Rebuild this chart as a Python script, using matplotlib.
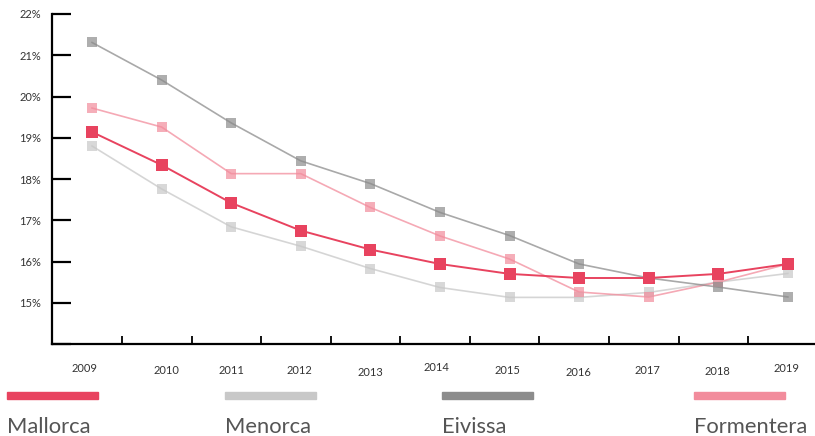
import matplotlib.pyplot as plt
import matplotlib.transforms as mtransforms
import numpy as np

years = ['2009', '2010', '2011', '2012', '2013', '2014', '2015', '2016', '2017', '2018', '2019']
mallorca = [19.14, 18.34, 17.42, 16.75, 16.29, 15.94, 15.70, 15.60, 15.60, 15.70, 15.94]
menorca = [18.80, 17.76, 16.84, 16.37, 15.83, 15.37, 15.13, 15.13, 15.25, 15.50, 15.71]
eivissa = [21.31, 20.40, 19.36, 18.44, 17.89, 17.19, 16.63, 15.94, 15.60, 15.38, 15.14]
formentera = [19.72, 19.26, 18.13, 18.13, 17.31, 16.62, 16.06, 15.26, 15.14, 15.50, 15.94]
y_ticks = [14, 15, 16, 17, 18, 19, 20, 21, 22]

islands = ['Mallorca', 'Menorca', 'Eivissa', 'Formentera']
colors = {'Mallorca': '#E8435F', 'Menorca': '#C8C8C8', 'Eivissa': '#8C8C8C', 'Formentera': '#F28C9C'}

# small hand offsets (px) of the year labels in the original
label_dx = [-7, 5, 0, -1, 0, -3, -2, -1, -1, -1, -1]
label_dy = [-24, -26, -26, -26, -28, -23, -26, -28, -26, -27, -24]

fig = plt.figure(figsize=(8.15, 4.36), dpi=100)
ax = fig.add_axes([52 / 815, 92 / 436, 763 / 815, 330 / 436])

x = np.arange(len(years))

series = [('Menorca', menorca), ('Formentera', formentera), ('Eivissa', eivissa)]
for name, vals in series:
	ax.plot(x, vals, color=colors[name], lw=1.2, alpha=0.75, zorder=2)
	ax.plot(x, vals, ls='none', marker='s', ms=7.4, color=colors[name],
			markeredgewidth=0, alpha=0.7, zorder=3)
ax.plot(x, mallorca, color=colors['Mallorca'], lw=1.4, marker='s', ms=8.3,
		markeredgewidth=0, zorder=4)

ax.set_xlim(-0.575, 10.39)
ax.set_ylim(14, 22)

ax.spines['top'].set_visible(False)
ax.spines['right'].set_visible(False)
ax.spines['left'].set_linewidth(1.6)
ax.spines['bottom'].set_linewidth(1.6)

ax.set_yticks(y_ticks)
ax.set_yticklabels([''] + ['%d%%' % t for t in y_ticks[1:]])
ax.tick_params(axis='y', direction='in', length=13.5, width=1.6, pad=8,
			   labelsize=8, labelcolor='#333333')
for lbl in ax.get_yticklabels():
	lbl.set_family('Lato')

ax.set_xticks(x[:-1] + 0.43)
ax.set_xticklabels([])
ax.tick_params(axis='x', direction='in', length=5.5, width=1.3)

for i, yr in enumerate(years):
	trans = mtransforms.offset_copy(ax.get_xaxis_transform(), fig=fig,
									x=label_dx[i], y=label_dy[i], units='dots')
	ax.text(i, 0, yr, transform=trans, ha='center', va='center',
			fontsize=8, color='#333333', family='Lato')

# legend: colour bars and names underneath
legend_x = [7, 225, 442, 694]
for name, lx in zip(islands, legend_x):
	fig.patches.append(plt.Rectangle((lx / 815, (436 - 399) / 436), 91 / 815, 7 / 436,
									 transform=fig.transFigure, color=colors[name],
									 figure=fig))
	fig.text(lx / 815, 3 / 436, name, ha='left', va='baseline', fontsize=15.8,
			 color='#555555', family='Lato')

fig.savefig('out.png', dpi=100)
